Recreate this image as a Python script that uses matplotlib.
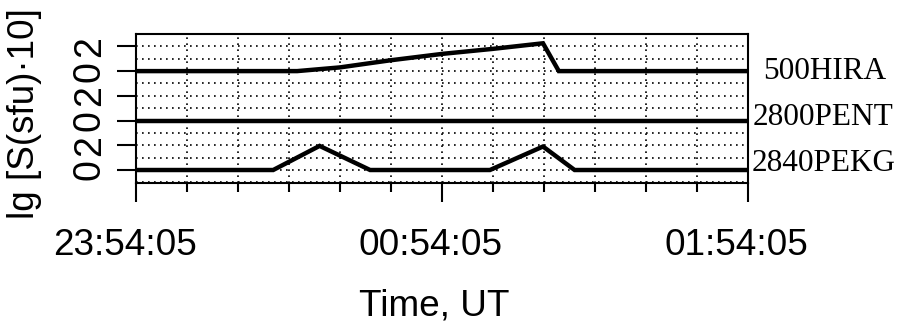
import numpy as np
import matplotlib
matplotlib.use("Agg")
import matplotlib.pyplot as plt
from matplotlib.ticker import MultipleLocator
from matplotlib.transforms import ScaledTranslation, blended_transform_factory

# 时间（分钟，从 23:54:05 起算）与各频道 lg 值（相对基线）
pekg_t = [0, 26.9, 36.0, 45.9, 69.4, 79.8, 86.0, 120]
pekg_v = [0, 0, 1.95, 0, 0, 1.9, 0, 0]

pent_t = [0, 120]
pent_v = [0, 0]

hira_t = [0, 31.6, 40.0, 49.8, 60.2, 70.0, 79.8, 82.9, 120]
hira_v = [0, 0, 0.3, 0.87, 1.4, 1.8, 2.25, 0, 0]

# 各曲线的纵向偏移和右侧名称
offsets = [0, 4, 8]
names = ["2840PEKG", "2800PENT", "500HIRA"]

xtick_pos = [0, 60, 120]
xtick_labels = ["23:54:05", "00:54:05", "01:54:05"]
ytick_pos = [0, 2, 4, 6, 8, 10]
ytick_labels = ["0", "2", "0", "2", "0", "2"]

SANS = ["Liberation Sans", "DejaVu Sans"]
SERIF = ["Liberation Serif", "DejaVu Serif"]
plt.rcParams['font.family'] = SANS

fig = plt.figure(figsize=(9.14, 3.28), dpi=100)
ax = fig.add_axes([0.1488, 0.4421, 0.6696, 0.4542])

series = [(pekg_t, pekg_v), (pent_t, pent_v), (hira_t, hira_v)]
for (t, v), off in zip(series, offsets):
    ax.plot(t, np.array(v) + off, color='black', lw=3.2, solid_joinstyle='miter', zorder=3)

ax.set_xlim(0, 120)
ax.set_ylim(-1.05, 11.0)

# 刻度
ax.set_xticks(xtick_pos)
ax.set_xticklabels(xtick_labels, fontsize=26.6)
ax.xaxis.set_minor_locator(MultipleLocator(10))
ax.set_yticks(ytick_pos)
ax.set_yticklabels(ytick_labels, fontsize=27, rotation=90, va='center')
ax.yaxis.set_minor_locator(MultipleLocator(1))

ax.tick_params(axis='x', which='major', direction='out', length=13.7, width=1.5, pad=18.5)
ax.tick_params(axis='x', which='minor', direction='out', length=6.5, width=1.5)
ax.tick_params(axis='y', which='major', direction='out', length=13.7, width=1.5, pad=6.5)
ax.tick_params(axis='y', which='minor', length=0)

# x 刻度标签整体左移一点
shift = ScaledTranslation(-11.5 / 100, 0, fig.dpi_scale_trans)
for lab in ax.get_xticklabels():
    lab.set_transform(lab.get_transform() + shift)

# 点状网格
ax.grid(True, which='both', color='black', lw=1.2, linestyle=(0, (1, 2.6)))
ax.set_axisbelow(True)

for sp in ax.spines.values():
    sp.set_linewidth(1.5)

ax.set_xlabel("Time, UT", fontsize=26.6, va='top')
ax.xaxis.set_label_coords(0.487, -0.705)
ax.set_ylabel("lg [S(sfu)·10]", fontsize=26.6)
ax.yaxis.set_label_coords(-0.1536, 0.466)

# 右侧频道名称
trans = blended_transform_factory(ax.transAxes, ax.transData)
label_x = [1.0065, 1.0082, 1.0245]
label_y = [-0.08, 3.63, 7.4]
for name, lx, ly in zip(names, label_x, label_y):
    ax.text(lx, ly, name, transform=trans, ha='left', va='baseline',
            fontsize=22.5, family=SERIF, clip_on=False)

fig.savefig("out.png", dpi=100)
